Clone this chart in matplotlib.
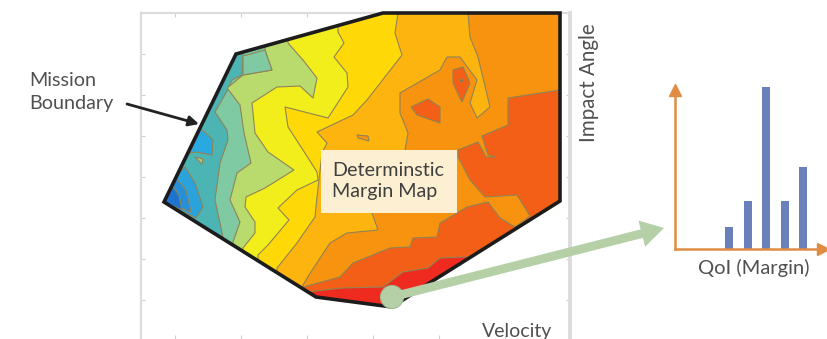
import matplotlib
matplotlib.use("Agg")
import matplotlib.pyplot as plt
from matplotlib.patches import Polygon, Rectangle, Circle

plt.rcParams['font.family'] = ['Lato', 'DejaVu Sans']

W, H = 828, 339

# mission boundary (pixel units of the map)
boundary = [(164, 202), (236, 54), (383, 13), (560, 13), (560, 201), (423, 287), (392, 307), (316, 297)]

# contour lines, painted low to high, each region is what lies right of its line
teal_green = [(243, 56), (242, 75), (232, 80), (226, 93), (215, 112), (227, 130), (228, 140), (220, 163), (215, 200), (223, 237), (230, 260)]
green_light = [(265, 50), (269, 62), (272, 70), (243, 75), (227, 88), (240, 105), (244, 133), (251, 163), (237, 173), (230, 200), (240, 222), (233, 242)]
light_yellow = [(288, 43), (303, 60), (317, 78), (313, 98), (300, 86), (277, 87), (252, 103), (255, 133), (268, 152), (294, 170), (265, 188), (246, 197), (245, 207), (255, 222), (255, 233), (243, 248)]
yellow_gold = [(338, 32), (344, 43), (334, 57), (347, 73), (348, 87), (328, 118), (285, 107), (288, 127), (303, 150), (317, 172), (318, 180), (297, 190), (278, 208), (289, 220), (268, 245), (258, 255)]
gold_amber = [(398, 13), (395, 33), (402, 55), (367, 100), (353, 115), (317, 132), (327, 143), (322, 153), (317, 197), (315, 217), (297, 243), (277, 268)]
amber_orange = [(468, 13), (470, 37), (478, 57), (490, 107), (477, 118), (470, 103), (477, 80), (460, 57), (447, 57), (440, 70), (400, 93), (400, 113), (408, 133), (405, 150), (372, 213), (378, 230), (347, 233), (330, 243), (309, 275), (303, 285)]
orange_dark = [(560, 90), (508, 98), (508, 125), (482, 136), (488, 155), (496, 157), (486, 157), (478, 142), (458, 150), (458, 157), (470, 180), (485, 197), (517, 195), (530, 216), (515, 227), (500, 218), (488, 202), (467, 207), (440, 223), (437, 237), (413, 238), (410, 247), (390, 248), (353, 263), (340, 277), (307, 286), (302, 288)]
dark_red = [(463, 257), (440, 258), (428, 268), (403, 272), (383, 287), (343, 288), (307, 292)]

band_lines = [teal_green, green_light, light_yellow, yellow_gold, gold_amber, amber_orange, orange_dark, dark_red]
band_colors = ['#7fcaa2', '#b9da6c', '#f2ee1c', '#ffd808', '#fdb40f', '#f8930f', '#f45f17', '#ee2b1e']

# islands of the surface: (outline, colour)
islands = [
    ([(243, 56), (265, 50), (272, 70), (243, 75)], '#7fcaa2'),
    ([(164, 202), (175, 177), (185, 167), (195, 183), (203, 207), (196, 218)], '#2aa3dc'),
    ([(164, 202), (176, 178), (186, 190), (191, 212)], '#2590d8'),
    ([(164, 202), (172, 185), (179, 195), (182, 210)], '#1c74cf'),
    ([(200, 128), (213, 140), (212, 155), (197, 152), (190, 153)], '#2aa9e0'),
    ([(195, 157), (203, 159), (202, 164)], '#a9cf84'),
    ([(357, 135), (368, 136), (369, 141), (358, 138)], '#f8930f'),
    ([(411, 107), (428, 99), (440, 107), (440, 123), (417, 115)], '#f45f17'),
    ([(453, 70), (463, 67), (470, 83), (462, 102), (453, 83)], '#f45f17'),
    ([(460, 79), (462, 79), (462, 81), (460, 81)], '#d8331a'),
]

x_ticks = [175, 241, 307, 373, 439, 505]
y_ticks = [54, 95, 136, 177, 218, 259, 300]

# margin histogram
bin_pos = [54, 73, 91, 110, 128]
bin_count = [22, 48, 162, 48, 82]

fig = plt.figure(figsize=(W / 100, H / 100), dpi=100)

ax = fig.add_axes([141 / W, 0, (570 - 141) / W, (H - 13) / H])
ax.set_xlim(141, 570)
ax.set_ylim(339, 13)
for side in ax.spines:
    ax.spines[side].set_color('#dcdcdc')
    ax.spines[side].set_linewidth(1.6)
ax.spines['right'].set_linewidth(2.8)
ax.spines['bottom'].set_visible(False)
ax.tick_params(which='both', top=True, right=True, direction='in', length=3, color='#d0d0d0',
               labelleft=False, labelbottom=False)
ax.set_xticks(x_ticks)
ax.set_yticks(y_ticks)

clip = Polygon(boundary, closed=True, transform=ax.transData, fill=False, edgecolor='none')
ax.add_patch(clip)


def add_region(pts, color, z):
    p = Polygon(pts, closed=True, facecolor=color, edgecolor='#8f8455', linewidth=0.8, zorder=z)
    ax.add_patch(p)
    p.set_clip_path(clip)


def close_line(line):
    # run round the outside of the map, over the top unless the line starts on the right edge
    x0, y0 = line[0]
    tail = [(line[-1][0], 345), (620, 345)]
    if x0 > 450 and y0 > 50:
        tail += [(620, y0)]
    else:
        tail += [(620, 0), (x0, 0)]
    return line + tail


add_region(boundary, '#4db4b4', 2)
for n, (line, col) in enumerate(zip(band_lines, band_colors)):
    add_region(close_line(line), col, 3 + n * 0.1)
for pts, col in islands:
    add_region(pts, col, 4)

ax.add_patch(Polygon(boundary, closed=True, fill=False, edgecolor='#1c1c1c', linewidth=2.6,
                     joinstyle='miter', zorder=6, clip_on=False))
ax.add_patch(Rectangle((321, 150), 136, 63, facecolor='#fdf0d2', edgecolor='none', zorder=7))
ax.text(332, 181, 'Determinstic\nMargin Map', fontsize=14.2, color='#404040', va='center', ha='left',
        linespacing=1.35, zorder=8)

hist = fig.add_axes([675 / W, (H - 249) / H, 148 / W, 159 / H])
hist.set_xlim(0, 148)
hist.set_ylim(0, 159)
hist.patch.set_alpha(0)
hist.bar(bin_pos, bin_count, width=8.5, color='#6b80bb', zorder=2, clip_on=False)
for side in ['top', 'right']:
    hist.spines[side].set_visible(False)
for side in ['left', 'bottom']:
    hist.spines[side].set_color('#e08c42')
    hist.spines[side].set_linewidth(1.8)
hist.set_xticks([])
hist.set_yticks([])
hist.plot(0, 1, '^', color='#e08c42', ms=9, transform=hist.transAxes, clip_on=False)
hist.plot(1, 0, '>', color='#e08c42', ms=9, transform=hist.transAxes, clip_on=False)

# overlay for the labels and arrows, same pixel units
top = fig.add_axes([0, 0, 1, 1])
top.set_xlim(0, W)
top.set_ylim(H, 0)
top.axis('off')
top.annotate('', xy=(199, 124), xytext=(127, 104),
             arrowprops=dict(arrowstyle='-|>', color='#222222', lw=2, mutation_scale=15, shrinkA=0, shrinkB=0))
top.annotate('', xy=(664, 228), xytext=(392, 297),
             arrowprops=dict(arrowstyle='simple,head_length=1.1,head_width=1.3,tail_width=0.42',
                             color='#b5cfa6', lw=0, mutation_scale=15, shrinkA=0, shrinkB=0))
top.add_patch(Circle((392, 297), 11.5, facecolor='#b5cfa6', edgecolor='#a0ba90', linewidth=0.8))

text_color = '#505050'
top.text(29, 92, 'Mission\nBoundary', fontsize=14.2, color=text_color, va='center', ha='left', linespacing=1.45)
top.text(589, 83, 'Impact Angle', fontsize=14.8, color=text_color, rotation=90, va='center', ha='center')
top.text(517, 331, 'Velocity', fontsize=14, color=text_color, va='center', ha='center')
top.text(754, 268, 'QoI (Margin)', fontsize=14.5, color=text_color, va='center', ha='center')

plt.savefig('out.png', dpi=100)
